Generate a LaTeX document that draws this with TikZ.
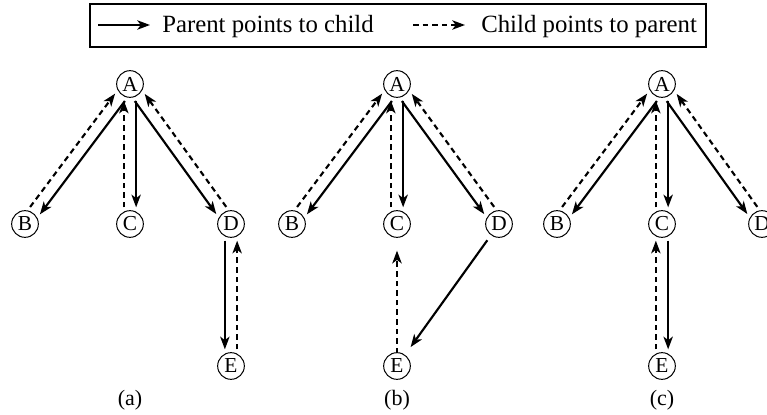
\documentclass[tikz,border=0pt]{standalone}
\usepackage{fontspec}
\setmainfont{Liberation Serif}
\usetikzlibrary{arrows.meta,calc}
\tikzset{
  par/.style={line width=1.6pt,-{Stealth[length=9.5pt,width=7pt,inset=2.6pt]}},
  chl/.style={par,dash pattern=on 4.2pt off 3pt},
  nd/.style={circle,draw,line width=0.75pt,minimum size=20pt,inner sep=0pt,font=\fontsize{16}{16}\selectfont},
  captxt/.style={font=\fontsize{16.5}{16.5}\selectfont},
  legtxt/.style={anchor=base west,inner sep=0pt,font=\fontsize{18.6}{18.6}\selectfont}
}
% offset connector: style, from, to, start angle, end angle
\newcommand{\offarr}[5]{\draw[#1] ($(#2)!12.5pt!(#3)!4.6pt!#4:(#3)$) -- ($(#3)!12.5pt!(#2)!4.6pt!#5:(#2)$);}
\begin{document}
\begin{tikzpicture}[x=0.75pt,y=-0.75pt]
\useasboundingbox (0,0) rectangle (767,414);
% legend
\draw[line width=1.1pt] (90,4) rectangle (706,47);
\coordinate (l1s) at (98,25);
\coordinate (l1e) at (150,25);
\coordinate (l2s) at (413,25);
\coordinate (l2e) at (465,25);
\draw[par] (l1s) -- (l1e);
\draw[chl] (l2s) -- (l2e);
\node[legtxt] (t1) at (162,32) {Parent points to child};
\node[legtxt] (t2) at (481,32) {Child points to parent};
% tree (a)
\node[nd] (aA) at (130,84) {A};
\node[nd] (aB) at (25,224) {B};
\node[nd] (aC) at (130,224) {C};
\node[nd] (aD) at (231,224) {D};
\node[nd] (aE) at (231,366) {E};
\node[captxt] (ca) at (130,400) {(a)};
\offarr{par}{aA}{aB}{90}{-90}
\offarr{chl}{aB}{aA}{90}{-90}
\offarr{par}{aA}{aC}{90}{-90}
\offarr{chl}{aC}{aA}{90}{-90}
\offarr{par}{aA}{aD}{-90}{90}
\offarr{chl}{aD}{aA}{-90}{90}
\offarr{par}{aD}{aE}{-90}{90}
\offarr{chl}{aE}{aD}{-90}{90}
% tree (b)
\node[nd] (bA) at (397,84) {A};
\node[nd] (bB) at (292,224) {B};
\node[nd] (bC) at (397,224) {C};
\node[nd] (bD) at (499,224) {D};
\node[nd] (bE) at (397,366) {E};
\node[captxt] (cb) at (397,400) {(b)};
\offarr{par}{bA}{bB}{90}{-90}
\offarr{chl}{bB}{bA}{90}{-90}
\offarr{par}{bA}{bC}{90}{-90}
\offarr{chl}{bC}{bA}{90}{-90}
\offarr{par}{bA}{bD}{-90}{90}
\offarr{chl}{bD}{bA}{-90}{90}
\draw[par] ($(bD)!15pt!(bE)$) -- ($(bE)!17.5pt!(bD)$);
\draw[chl] ($(bE)!9.5pt!(bC)$) -- ($(bC)!20pt!(bE)$);
% tree (c)
\node[nd] (cA) at (662,84) {A};
\node[nd] (cB) at (557,224) {B};
\node[nd] (cC) at (662,224) {C};
\node[nd] (cD) at (762,224) {D};
\node[nd] (cE) at (662,366) {E};
\node[captxt] (cc) at (662,400) {(c)};
\offarr{par}{cA}{cB}{90}{-90}
\offarr{chl}{cB}{cA}{90}{-90}
\offarr{par}{cA}{cC}{90}{-90}
\offarr{chl}{cC}{cA}{90}{-90}
\offarr{par}{cA}{cD}{-90}{90}
\offarr{chl}{cD}{cA}{-90}{90}
\offarr{par}{cC}{cE}{90}{-90}
\offarr{chl}{cE}{cC}{90}{-90}
\end{tikzpicture}
\end{document}
